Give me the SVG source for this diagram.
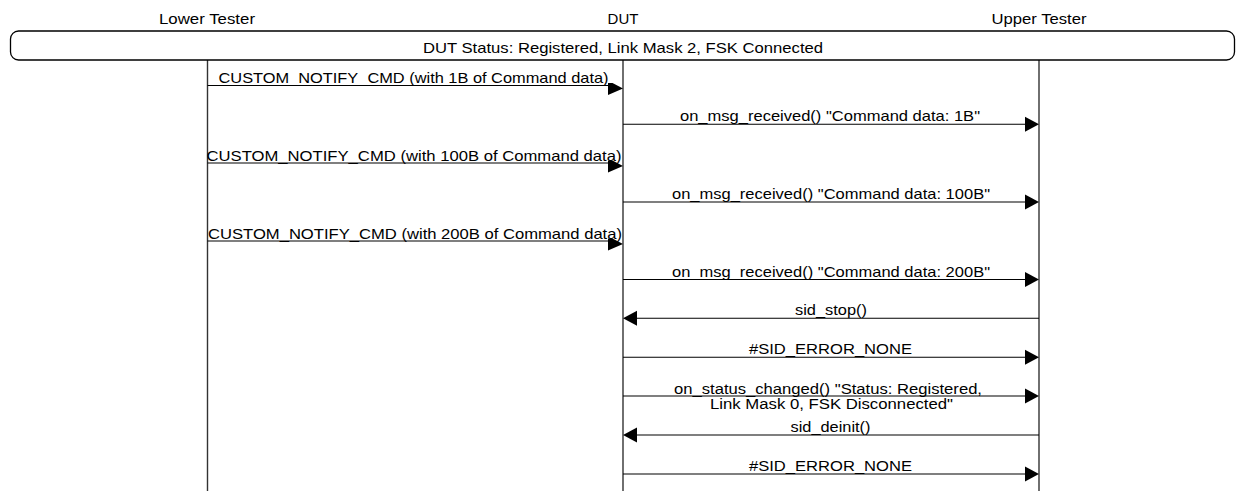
<svg xmlns="http://www.w3.org/2000/svg" width="1236" height="493" viewBox="0 0 1236 493">
<style>
text { font-family: "Liberation Sans", Arial, sans-serif; font-size: 15px; fill: #000; text-anchor: middle; }
.life { stroke: #333; stroke-width: 1.4; fill: none; }
.msg { stroke: #000; stroke-width: 1.1; fill: none; }
.head { fill: #000; stroke: none; }
.box { fill: #fff; stroke: #000; stroke-width: 1.3; }
.small { font-size: 14px; }
</style>
<rect width="1236" height="493" fill="#fff"/>
<g id="lower-tester">
  <text x="207" y="24" textLength="96" lengthAdjust="spacingAndGlyphs">Lower Tester</text>
  <line class="life" x1="207.5" y1="60" x2="207.5" y2="491"/>
</g>
<g id="dut">
  <text x="623" y="24">DUT</text>
  <line class="life" x1="623" y1="60" x2="623" y2="491"/>
</g>
<g id="upper-tester">
  <text x="1039" y="24" textLength="95" lengthAdjust="spacingAndGlyphs">Upper Tester</text>
  <line class="life" x1="1039" y1="60" x2="1039" y2="491"/>
</g>
<g id="status">
  <rect class="box" x="10.5" y="31" width="1224" height="29" rx="8" ry="8"/>
  <text x="623" y="53" textLength="400" lengthAdjust="spacingAndGlyphs">DUT Status: Registered, Link Mask 2, FSK Connected</text>
</g>
<g id="connectors">
  <line class="msg" x1="207.5" y1="85.5" x2="612" y2="85.5"/>
  <polygon class="head" points="608,83 612.5,83 623,88.5 608,95"/>
  <text x="413.5" y="83" textLength="390" lengthAdjust="spacingAndGlyphs">CUSTOM_NOTIFY_CMD (with 1B of Command data)</text>

  <line class="msg" x1="623" y1="124.3" x2="1028" y2="124.3"/>
  <polygon class="head" points="1025,116.8 1039,124.3 1025,131.8"/>
  <text x="830" y="121.3" textLength="300" lengthAdjust="spacingAndGlyphs">on_msg_received() "Command data: 1B"</text>

  <line class="msg" x1="207.5" y1="163" x2="612" y2="163"/>
  <polygon class="head" points="608,160.5 612.5,160.5 623,166 608,172.5"/>
  <text x="414" y="160.5" textLength="415" lengthAdjust="spacingAndGlyphs">CUSTOM_NOTIFY_CMD (with 100B of Command data)</text>

  <line class="msg" x1="623" y1="202" x2="1028" y2="202"/>
  <polygon class="head" points="1025,194.5 1039,202 1025,209.5"/>
  <text x="831" y="199" textLength="318" lengthAdjust="spacingAndGlyphs">on_msg_received() "Command data: 100B"</text>

  <line class="msg" x1="207.5" y1="241" x2="612" y2="241"/>
  <polygon class="head" points="608,238.5 612.5,238.5 623,244 608,250.5"/>
  <text x="415" y="238.5" textLength="414" lengthAdjust="spacingAndGlyphs">CUSTOM_NOTIFY_CMD (with 200B of Command data)</text>

  <line class="msg" x1="623" y1="279.5" x2="1028" y2="279.5"/>
  <polygon class="head" points="1025,272 1039,279.5 1025,287"/>
  <text x="831" y="276.5" textLength="318" lengthAdjust="spacingAndGlyphs">on_msg_received() "Command data: 200B"</text>

  <line class="msg" x1="634" y1="318.3" x2="1039" y2="318.3"/>
  <polygon class="head" points="637,310.8 623,318.3 637,325.8"/>
  <text x="831" y="315.3" textLength="72" lengthAdjust="spacingAndGlyphs">sid_stop()</text>

  <line class="msg" x1="623" y1="357.3" x2="1028" y2="357.3"/>
  <polygon class="head" points="1025,349.8 1039,357.3 1025,364.8"/>
  <text x="830.5" y="354.3" textLength="163" lengthAdjust="spacingAndGlyphs">#SID_ERROR_NONE</text>

  <line class="msg" x1="623" y1="396" x2="1028" y2="396"/>
  <polygon class="head" points="1025,388.5 1039,396 1025,403.5"/>
  <text class="small" x="828" y="394" textLength="308" lengthAdjust="spacingAndGlyphs">on_status_changed() "Status: Registered,</text>
  <text class="small" x="831.5" y="408.5" textLength="243" lengthAdjust="spacingAndGlyphs">Link Mask 0, FSK Disconnected"</text>

  <line class="msg" x1="634" y1="435" x2="1039" y2="435"/>
  <polygon class="head" points="637,427.5 623,435 637,442.5"/>
  <text x="830.5" y="432" textLength="80" lengthAdjust="spacingAndGlyphs">sid_deinit()</text>

  <line class="msg" x1="623" y1="474" x2="1028" y2="474"/>
  <polygon class="head" points="1025,466.5 1039,474 1025,481.5"/>
  <text x="830.5" y="471" textLength="163" lengthAdjust="spacingAndGlyphs">#SID_ERROR_NONE</text>
</g>
</svg>
